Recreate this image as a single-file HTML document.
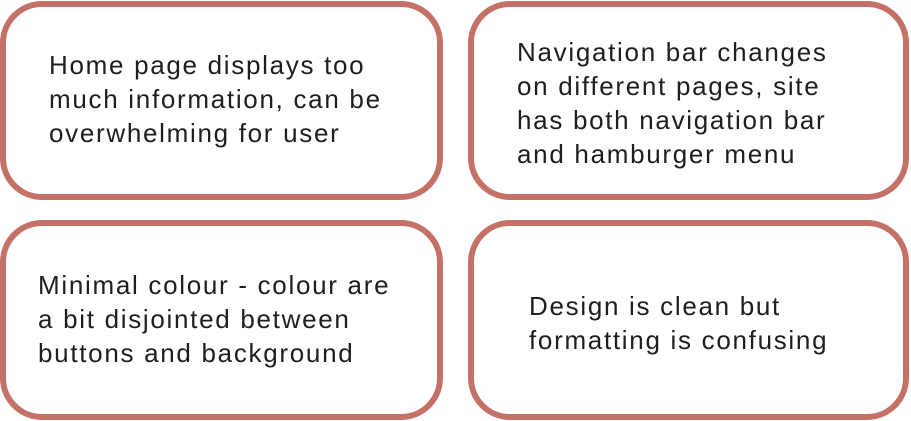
<!DOCTYPE html>
<html><head><style>
body{margin:0;width:911px;height:421px;background:#fff;position:relative;overflow:hidden;font-family:"Liberation Sans",sans-serif;}
.b{position:absolute;box-sizing:border-box;border:6px solid #c47268;border-radius:42px;}
.t{position:absolute;font-size:26px;letter-spacing:1.7px;line-height:34px;color:#1e1e1e;white-space:nowrap;}
</style></head><body>
<div class="b" style="left:0;top:1px;width:443px;height:199px"></div>
<div class="b" style="left:468px;top:1px;width:441px;height:199px"></div>
<div class="b" style="left:0;top:220px;width:443px;height:200px"></div>
<div class="b" style="left:468px;top:220px;width:441px;height:200px"></div>
<div class="t" style="left:49px;top:48px">Home page displays too<br>much information, can be<br>overwhelming for user</div>
<div class="t" style="left:517px;top:35px">Navigation bar changes<br>on different pages, site<br>has both navigation bar<br>and hamburger menu</div>
<div class="t" style="left:38px;top:268px">Minimal colour - colour are<br>a bit disjointed between<br>buttons and background</div>
<div class="t" style="left:529px;top:289px">Design is clean but<br>formatting is confusing</div>
</body></html>
